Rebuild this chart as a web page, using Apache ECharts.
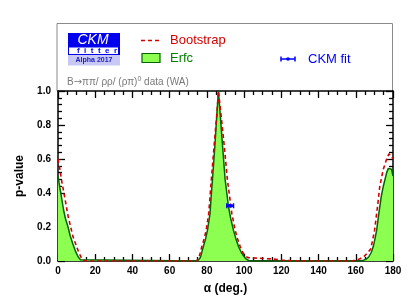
<!DOCTYPE html>
<html>
<head>
<meta charset="utf-8">
<script src="https://cdn.jsdelivr.net/npm/echarts@6/dist/echarts.min.js"></script>
<style>html,body{margin:0;padding:0;background:#fff}#c{width:414px;height:303px}</style>
</head>
<body>
<div id="c"></div>
<script>
// ---- data ----
var erfcAlpha = [0,1,1.5,3,4,5.4,6.5,8,9.5,10.8,12,13,75,76.5,78.1,79.3,80.3,81.7,82.3,83,84.3,85.4,86.2,87.1,88.4,89.8,90.7,91.6,92.8,94.3,95.6,97,98.5,99.7,101,102.5,104,162,164.3,165.7,167,168.3,169.4,170.3,171.2,172.4,173.7,174.8,175.5,176.6,177.5,178.3,179.2,180];
var erfcP     = [0.5,0.43,0.4,0.3,0.25,0.2,0.15,0.1,0.055,0.025,0.008,0,0,0.02,0.085,0.13,0.18,0.28,0.38,0.48,0.68,0.87,1.0,0.87,0.68,0.48,0.4,0.32,0.25,0.18,0.13,0.085,0.05,0.03,0.012,0.003,0,0,0.005,0.012,0.025,0.05,0.085,0.13,0.18,0.28,0.38,0.44,0.45,0.52,0.545,0.555,0.54,0.5];
var bootAlpha = [0,1,2,3.2,4.5,5.5,6.8,8,9.5,11,12.5,13.5,15,74.6,76,77.3,78.5,79.6,81,82.4,83.9,85.4,86.2,87.5,89.3,91,92.2,93.4,95.2,96.5,97.9,99.3,100.6,102,105,110,115,120,125,130,158,160,162,164.3,166,168,169,170.1,171,171.9,172.9,174.8,176.6,177.8,179,180];
var bootP     = [0.6,0.54,0.47,0.4,0.32,0.26,0.2,0.145,0.1,0.055,0.02,0.005,0,0,0.03,0.085,0.13,0.18,0.28,0.48,0.68,0.87,1.0,0.87,0.68,0.48,0.38,0.28,0.18,0.13,0.085,0.05,0.03,0.02,0.018,0.015,0.012,0.006,0.002,0,0,0.005,0.012,0.025,0.045,0.07,0.12,0.18,0.26,0.34,0.44,0.54,0.6,0.63,0.62,0.6];
var ckmFit = {alpha: 92.5, p: 0.325, low: 90.7, high: 94.3};
var xTicks = [0,20,40,60,80,100,120,140,160,180];
var yTicks = [0.0,0.2,0.4,0.6,0.8,1.0];

function zip(a, b) { return a.map(function (v, i) { return [v, b[i]]; }); }

var FONT = 'Liberation Sans, Arial, Helvetica, sans-serif';
var chart = echarts.init(document.getElementById('c'), null, {renderer: 'canvas'});

var axisCommon = {
  type: 'value',
  axisLine: {show: true, onZero: false, lineStyle: {color: '#000', width: 1.5}},
  axisTick: {show: true, inside: true, length: 7, lineStyle: {color: '#000', width: 1.3}},
  minorTick: {show: true, length: 4, lineStyle: {color: '#000', width: 1.3}},
  splitLine: {show: false}
};

var option = {
  animation: false,
  backgroundColor: '#fff',
  grid: {left: 58, right: 21, top: 91, bottom: 42, containLabel: false},
  xAxis: [
    Object.assign({}, axisCommon, {
      min: xTicks[0], max: xTicks[xTicks.length - 1], interval: 20, position: 'bottom',
      minorTick: Object.assign({}, axisCommon.minorTick, {splitNumber: 4}),
      axisLabel: {show: true, margin: 5, color: '#000', fontFamily: FONT, fontWeight: 'bold', fontSize: 10},
      name: 'α (deg.)', nameLocation: 'middle', nameGap: 22,
      nameTextStyle: {color: '#000', fontFamily: FONT, fontWeight: 'bold', fontSize: 12}
    }),
    Object.assign({}, axisCommon, {
      min: xTicks[0], max: xTicks[xTicks.length - 1], interval: 20, position: 'top',
      minorTick: Object.assign({}, axisCommon.minorTick, {splitNumber: 4}),
      axisLabel: {show: false}
    })
  ],
  yAxis: [
    Object.assign({}, axisCommon, {
      min: yTicks[0], max: yTicks[yTicks.length - 1], interval: 0.2, position: 'left',
      minorTick: Object.assign({}, axisCommon.minorTick, {splitNumber: 5}),
      axisLabel: {show: true, margin: 7, color: '#000', fontFamily: FONT, fontWeight: 'bold', fontSize: 10,
        formatter: function (v) { return v.toFixed(1); }},
      name: 'p-value', nameLocation: 'middle', nameGap: 32, nameRotate: 90,
      nameTextStyle: {color: '#000', fontFamily: FONT, fontWeight: 'bold', fontSize: 12}
    }),
    Object.assign({}, axisCommon, {
      min: yTicks[0], max: yTicks[yTicks.length - 1], interval: 0.2, position: 'right',
      minorTick: Object.assign({}, axisCommon.minorTick, {splitNumber: 5}),
      axisLabel: {show: false}
    })
  ],
  series: [
    {
      name: 'Erfc', type: 'line', data: zip(erfcAlpha, erfcP), showSymbol: false, symbol: 'none',
      lineStyle: {color: '#006400', width: 1.5},
      areaStyle: {color: '#8cff50', opacity: 1},
      z: 2
    },
    {
      name: 'Bootstrap', type: 'line', data: zip(bootAlpha, bootP), showSymbol: false, symbol: 'none',
      lineStyle: {color: '#d40000', width: 1.6, type: [4, 3]},
      z: 3
    },
    {
      name: 'CKM fit', type: 'custom', z: 4,
      data: [[ckmFit.alpha, ckmFit.p, ckmFit.low, ckmFit.high]],
      renderItem: function (params, api) {
        var c = api.coord([api.value(0), api.value(1)]);
        var l = api.coord([api.value(2), api.value(1)]);
        var h = api.coord([api.value(3), api.value(1)]);
        var st = {stroke: '#0000ff', lineWidth: 2.5};
        return {type: 'group', children: [
          {type: 'line', shape: {x1: l[0], y1: c[1], x2: h[0], y2: c[1]}, style: st},
          {type: 'line', shape: {x1: l[0], y1: c[1] - 2.5, x2: l[0], y2: c[1] + 2.5}, style: {stroke: '#0000ff', lineWidth: 1.5}},
          {type: 'line', shape: {x1: h[0], y1: c[1] - 2.5, x2: h[0], y2: c[1] + 2.5}, style: {stroke: '#0000ff', lineWidth: 1.5}},
          {type: 'circle', shape: {cx: c[0], cy: c[1], r: 2}, style: {fill: '#0000ff'}}
        ]};
      }
    }
  ],
  graphic: [
    // legend frame
    {type: 'polyline', shape: {points: [[57, 91], [57, 23.5], [392.5, 23.5], [392.5, 91]]},
      style: {stroke: '#8a8a8a', lineWidth: 1, fill: null}, silent: true},
    // logo
    {type: 'rect', shape: {x: 68, y: 33, width: 52, height: 22}, style: {fill: '#0000ee'}},
    {type: 'rect', shape: {x: 69, y: 47.5, width: 49, height: 6.5}, style: {fill: '#ffffff'}},
    {type: 'text', x: 93, y: 40, style: {text: 'CKM', fill: '#ffffff', font: 'italic 14px ' + FONT, align: 'center', verticalAlign: 'middle'}},
    {type: 'text', x: 97, y: 51, style: {text: 'f  i  t  t  e  r', fill: '#0000ee', font: 'bold 8px ' + FONT, align: 'center', verticalAlign: 'middle'}},
    {type: 'rect', shape: {x: 68, y: 55, width: 52, height: 10.5}, style: {fill: '#c8c8f4'}},
    {type: 'text', x: 94, y: 60.5, style: {text: 'Alpha 2017', fill: '#2020c0', font: 'bold 7px ' + FONT, align: 'center', verticalAlign: 'middle'}},
    // legend: Bootstrap
    {type: 'line', shape: {x1: 141, y1: 40.5, x2: 161, y2: 40.5}, style: {stroke: '#d40000', lineWidth: 1.6, lineDash: [4, 3]}},
    {type: 'text', x: 170, y: 40.5, style: {text: 'Bootstrap', fill: '#d40000', font: '13px ' + FONT, verticalAlign: 'middle'}},
    // legend: Erfc
    {type: 'rect', shape: {x: 142, y: 53.5, width: 18, height: 9}, style: {fill: '#8cff50', stroke: '#006400', lineWidth: 1.2}},
    {type: 'text', x: 170, y: 58.5, style: {text: 'Erfc', fill: '#008000', font: '13px ' + FONT, verticalAlign: 'middle'}},
    // legend: CKM fit
    {type: 'line', shape: {x1: 281, y1: 59, x2: 295, y2: 59}, style: {stroke: '#0000ff', lineWidth: 1.5}},
    {type: 'line', shape: {x1: 281, y1: 56.5, x2: 281, y2: 61.5}, style: {stroke: '#0000ff', lineWidth: 1.5}},
    {type: 'line', shape: {x1: 295, y1: 56.5, x2: 295, y2: 61.5}, style: {stroke: '#0000ff', lineWidth: 1.5}},
    {type: 'circle', shape: {cx: 288, cy: 59, r: 1.8}, style: {fill: '#0000ff'}},
    {type: 'text', x: 308, y: 59, style: {text: 'CKM fit', fill: '#0000ff', font: '13px ' + FONT, verticalAlign: 'middle'}},
    // data label
    {type: 'text', x: 67, y: 82, style: {
      text: 'B{a|→}ππ/ ρρ/ (ρπ){s|0} data (WA)', fill: '#7a7a7a', font: '10px ' + FONT, verticalAlign: 'middle',
      rich: {
        a: {fontSize: 10, fontFamily: 'DejaVu Sans', fill: '#7a7a7a'},
        s: {fontSize: 7, verticalAlign: 'top', padding: [0, 0, 6, 0], fill: '#7a7a7a', fontFamily: FONT}
      }
    }}
  ]
};
chart.setOption(option);
</script>
</body>
</html>
